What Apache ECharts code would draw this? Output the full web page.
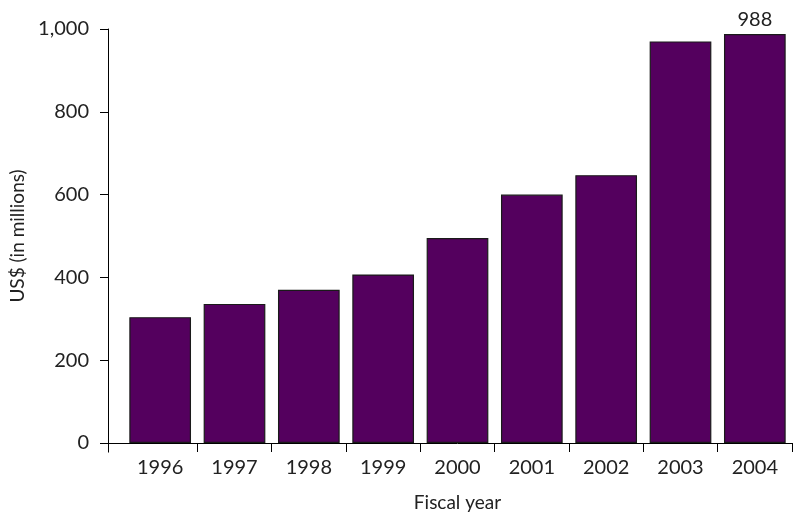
<!DOCTYPE html>
<html>
<head>
<meta charset="utf-8">
<script src="https://cdn.jsdelivr.net/npm/echarts@6/dist/echarts.min.js"></script>
<style>
html,body{margin:0;padding:0;background:#fff;}
#c{width:793px;height:515px;}
</style>
</head>
<body>
<div id="c"></div>
<script>
const categories = ['1996','1997','1998','1999','2000','2001','2002','2003','2004'];
const values = [304, 336, 370, 407, 495, 600, 647, 970, 988];
const yTicks = [0, 200, 400, 600, 800, 1000];
const labelledYear = '2004';

const FONT = 'Lato';
const chart = echarts.init(document.getElementById('c'), null, {renderer: 'canvas'});

const option = {
  animation: false,
  backgroundColor: '#fff',
  textStyle: {fontFamily: FONT},
  grid: {left: 123, right: 1, top: 29, bottom: 72, containLabel: false, outerBoundsMode: 'none'},
  xAxis: {
    type: 'category',
    data: categories,
    boundaryGap: true,
    name: 'Fiscal year',
    nameLocation: 'middle',
    nameGap: 50,
    nameTextStyle: {fontFamily: FONT, fontSize: 19, color: '#222'},
    axisLine: {show: true, lineStyle: {color: '#000', width: 1}},
    axisTick: {show: true, length: 9, lineStyle: {color: '#000'}, interval: function (i) { return i !== 0; }},
    axisLabel: {fontFamily: FONT, fontSize: 20, color: '#222', margin: 15}
  },
  yAxis: {
    type: 'value',
    min: yTicks[0],
    max: yTicks[yTicks.length - 1],
    interval: 200,
    offset: 15,
    name: 'US$ (in millions)',
    nameLocation: 'middle',
    nameGap: 78,
    nameRotate: 90,
    nameTextStyle: {fontFamily: FONT, fontSize: 19, color: '#222'},
    axisLine: {show: true, lineStyle: {color: '#000', width: 1}},
    axisTick: {show: true, length: 8, lineStyle: {color: '#000'}},
    splitLine: {show: false},
    axisLabel: {
      fontFamily: FONT, fontSize: 20, color: '#222', margin: 19,
      formatter: function (v) { return v.toLocaleString('en-US'); }
    }
  },
  series: [{
    type: 'bar',
    data: values.map(function (v, i) {
      const item = {value: v};
      if (categories[i] === labelledYear) {
        item.label = {show: true, position: 'top', distance: 4, fontFamily: FONT, fontSize: 20, color: '#222'};
      }
      return item;
    }),
    barCategoryGap: '17%',
    itemStyle: {color: '#54005e', borderColor: '#1a1a1a', borderWidth: 1.2}
  }]
};
chart.setOption(option);

// extend x-axis line left to the y-axis tick end, and y-axis line below the x-axis
const zeroPt = chart.convertToPixel({gridIndex: 0}, [0, 0]);
const y0 = Math.round(zeroPt[1]) + 0.5;
const yAxisX = 123 - 15 + 0.5;
chart.setOption({
  graphic: [
    {type: 'line', shape: {x1: yAxisX - 8, y1: y0, x2: 124, y2: y0}, style: {stroke: '#000', lineWidth: 1}, z: 10},
    {type: 'line', shape: {x1: yAxisX, y1: y0, x2: yAxisX, y2: y0 + 9}, style: {stroke: '#000', lineWidth: 1}, z: 10}
  ]
});
</script>
</body>
</html>
